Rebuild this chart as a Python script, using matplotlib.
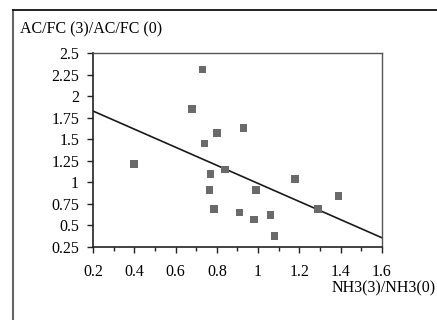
import matplotlib
matplotlib.use('Agg')
import matplotlib.pyplot as plt
from matplotlib.lines import Line2D
from matplotlib.ticker import MultipleLocator
import numpy as np

plt.rcParams['font.family'] = 'Liberation Serif'

# ratios
nh3_ratio = [0.40, 0.73, 0.68, 0.80, 0.74, 0.93, 0.77, 0.765, 0.785,
             0.84, 0.91, 0.99, 0.98, 1.06, 1.08, 1.18, 1.29, 1.39]
acfc_ratio = [1.21, 2.31, 1.85, 1.57, 1.45, 1.63, 1.10, 0.91, 0.69,
              1.15, 0.65, 0.91, 0.57, 0.62, 0.38, 1.04, 0.69, 0.84]

# trend line
trend_slope = -1.05
trend_intercept = 2.037

x_ticks = [0.2, 0.4, 0.6, 0.8, 1.0, 1.2, 1.4, 1.6]
x_tick_labels = ['0.2', '0.4', '0.6', '0.8', '1', '1.2', '1.4', '1.6']
y_ticks = [0.25, 0.5, 0.75, 1.0, 1.25, 1.5, 1.75, 2.0, 2.25, 2.5]
y_tick_labels = ['0.25', '0.5', '0.75', '1', '1.25', '1.5', '1.75', '2', '2.25', '2.5']

fig = plt.figure(figsize=(4.37, 3.20), dpi=100)
ax = fig.add_axes([0.2128, 0.2281, 0.6613, 0.6063])

ax.scatter(nh3_ratio, acfc_ratio, marker='s', s=30, color='#6a6a6a',
           edgecolors='none', zorder=3)

xs = np.array([0.2, 1.6])
ax.plot(xs, trend_intercept + trend_slope * xs, color='#1a1a1a', linewidth=1.2)

ax.set_xlim(0.2, 1.6)
ax.set_ylim(0.25, 2.5)
ax.set_xticks(x_ticks)
ax.set_xticklabels(x_tick_labels)
ax.set_yticks(y_ticks)
ax.set_yticklabels(y_tick_labels)
ax.xaxis.set_minor_locator(MultipleLocator(0.1))
ax.tick_params(axis='both', which='major', direction='out', length=4,
               width=1, labelsize=11.5, color='#222222')
ax.tick_params(axis='x', which='minor', direction='out', length=3,
               width=1, color='#222222')
ax.tick_params(axis='x', pad=8)
ax.tick_params(axis='y', pad=6)

for side in ['left', 'bottom']:
    ax.spines[side].set_color('#222222')
    ax.spines[side].set_linewidth(1.2)
for side in ['top', 'right']:
    ax.spines[side].set_color('#555555')
    ax.spines[side].set_linewidth(1.0)

fig.text(20 / 437, 1 - 29 / 320, 'AC/FC (3)/AC/FC (0)', fontsize=11.5,
         ha='left', va='center')
fig.text(436 / 437, 1 - 288 / 320, 'NH3(3)/NH3(0)', fontsize=11.5,
         ha='right', va='center')

# outer frame (left and top only)
fig.add_artist(Line2D([13 / 437, 13 / 437], [0, 1 - 10 / 320],
                      color='#666666', linewidth=1.5))
fig.add_artist(Line2D([13 / 437, 1], [1 - 10 / 320, 1 - 10 / 320],
                      color='#111111', linewidth=1.3))

fig.savefig('out.png', dpi=100)
plt.close(fig)
